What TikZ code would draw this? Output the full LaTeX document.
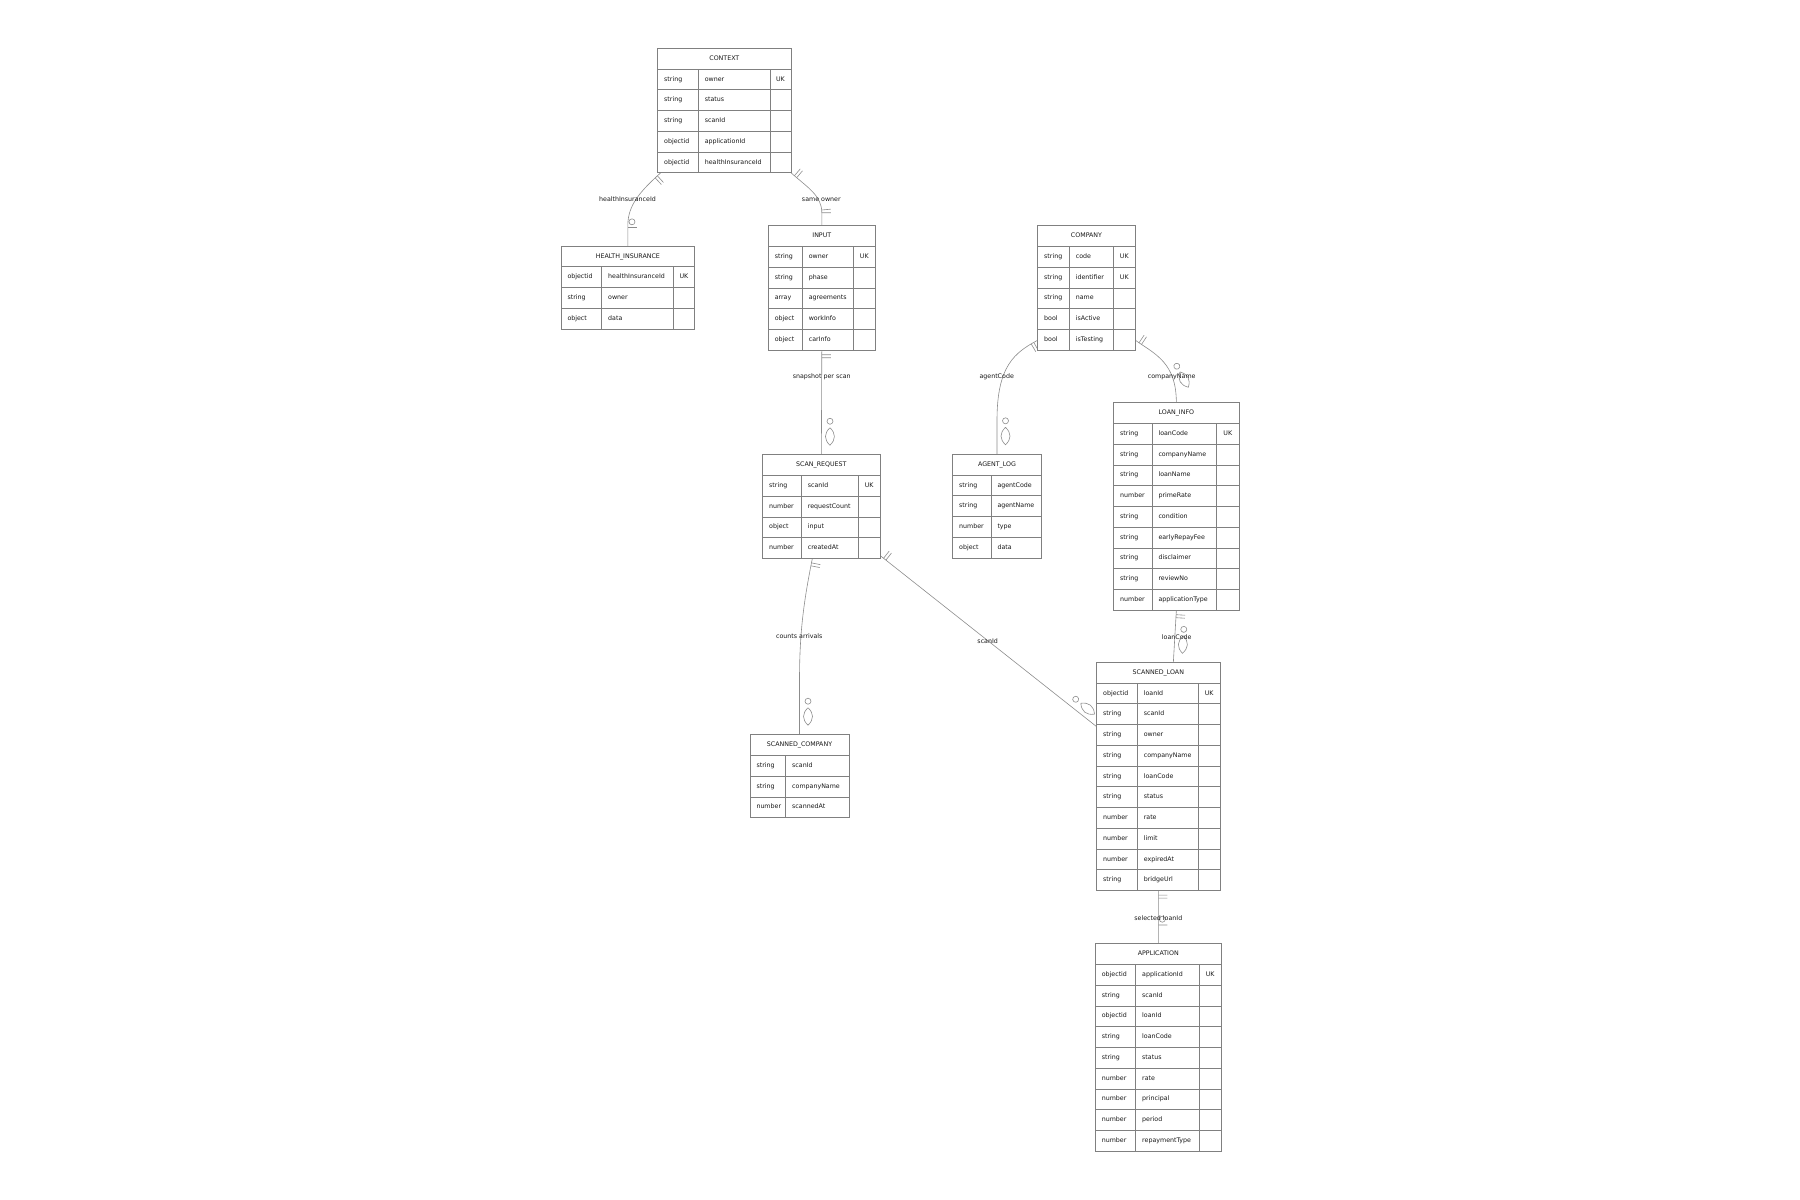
\documentclass[tikz,border=0pt]{standalone}
\usepackage{fontspec}
\setmainfont{DejaVu Sans}
\usetikzlibrary{fit,backgrounds,decorations.markings}
\hyphenpenalty=10000

\begin{document}
\begin{tikzpicture}[x=1pt, y=-1pt,
    font=\fontsize{6.3}{7.5}\selectfont,
    every node/.style={text=black!90},
    head/.style={draw=black!50, line width=0.9pt, fill=white, outer sep=0pt, inner sep=0pt,
        text height=4.7pt, text depth=1.4pt,
        minimum height=20.75pt, minimum width=#1, anchor=north west},
    cell/.style={draw=black!50, line width=0.9pt, fill=white, outer sep=0pt, inner xsep=6.5pt,
        inner ysep=0pt, text height=4.7pt, text depth=1.4pt,
        minimum height=20.75pt, text width=#1, align=left, anchor=north west},
    keycell/.style={draw=black!50, line width=0.9pt, fill=white, outer sep=0pt, inner sep=0pt,
        text height=4.7pt, text depth=1.4pt,
        minimum height=20.75pt, minimum width=#1, anchor=north west},
    box/.style={inner sep=0pt, outer sep=0pt},
    lbl/.style={inner sep=0pt},
    link/.style={draw=black!45, line width=0.6pt},
    onestart/.style={postaction={decorate, decoration={markings,
        mark=at position 4.5pt with {\draw[link] (0,0) -- (0,-9);},
        mark=at position 7.5pt with {\draw[link] (0,0) -- (0,-9);}}}},
    oneend/.style={postaction={decorate, decoration={markings,
        mark=at position -15.7pt with {\draw[link] (0,0) -- (0,-9);},
        mark=at position -13pt with {\draw[link] (0,0) -- (0,-9);}}}},
    zoneend/.style={postaction={decorate, decoration={markings,
        mark=at position -24.5pt with {\draw[link, fill=white] (0,-4) circle[radius=3pt];},
        mark=at position -18.7pt with {\draw[link] (0,0) -- (0,-9);}}}},
    manyend/.style={postaction={decorate, decoration={markings,
        mark=at position -33.5pt with {\draw[link, fill=white] (0,-8.5) circle[radius=3pt];
            \draw[link] (6.5,-8.5) .. controls (12.3,-14.5) and (18.2,-14.5) .. (24,-8.5)
                .. controls (18.2,-2.5) and (12.3,-2.5) .. (6.5,-8.5);}}}}]

    \useasboundingbox (0,0) rectangle (1800,1200);

    % CONTEXT
    \node[head=133.3pt] (context-h) at (657.7,48.3) {CONTEXT};
    \foreach \t/\f/\k [count=\i] in {string/owner/UK, string/status/{}, string/scanId/{},
        objectid/applicationId/{}, objectid/healthInsuranceId/{}} {
        \node[cell=27.6pt] (context-t\i) at (657.7,{48.3+20.75*\i}) {\t};
        \node[cell=58.7pt] (context-f\i) at (context-t\i.north east) {\f};
        \node[keycell=21pt] (context-k\i) at (context-f\i.north east) {\k};
    }
    \node[box, fit=(context-h)(context-k5)] (context) {};

    % HEALTH_INSURANCE
    \node[head=133.7pt] (hi-h) at (561,246) {HEALTH\_INSURANCE};
    \foreach \t/\f/\k [count=\i] in {objectid/healthInsuranceId/UK, string/owner/{}, object/data/{}} {
        \node[cell=27.7pt] (hi-t\i) at (561,{246+20.75*\i}) {\t};
        \node[cell=58.6pt] (hi-f\i) at (hi-t\i.north east) {\f};
        \node[keycell=21.4pt] (hi-k\i) at (hi-f\i.north east) {\k};
    }
    \node[box, fit=(hi-h)(hi-k3)] (hi) {};

    % INPUT
    \node[head=107pt] (input-h) at (768.3,225.7) {INPUT};
    \foreach \t/\f/\k [count=\i] in {string/owner/UK, string/phase/{}, array/agreements/{},
        object/workInfo/{}, object/carInfo/{}} {
        \node[cell=21pt] (input-t\i) at (768.3,{225.7+20.75*\i}) {\t};
        \node[cell=38pt] (input-f\i) at (input-t\i.north east) {\f};
        \node[keycell=22pt] (input-k\i) at (input-f\i.north east) {\k};
    }
    \node[box, fit=(input-h)(input-k5)] (input) {};

    % COMPANY
    \node[head=97.6pt] (company-h) at (1037.7,225.7) {COMPANY};
    \foreach \t/\f/\k [count=\i] in {string/code/UK, string/identifier/UK, string/name/{},
        bool/isActive/{}, bool/isTesting/{}} {
        \node[cell=18.6pt] (company-t\i) at (1037.7,{225.7+20.75*\i}) {\t};
        \node[cell=31pt] (company-f\i) at (company-t\i.north east) {\f};
        \node[keycell=22pt] (company-k\i) at (company-f\i.north east) {\k};
    }
    \node[box, fit=(company-h)(company-k5)] (company) {};

    % LOAN_INFO
    \node[head=125.3pt] (loaninfo-h) at (1113.7,402.7) {LOAN\_INFO};
    \foreach \t/\f/\k [count=\i] in {string/loanCode/UK, string/companyName/{}, string/loanName/{},
        number/primeRate/{}, string/condition/{}, string/earlyRepayFee/{}, string/disclaimer/{},
        string/reviewNo/{}, number/applicationType/{}} {
        \node[cell=25.3pt] (loaninfo-t\i) at (1113.7,{402.7+20.75*\i}) {\t};
        \node[cell=51.7pt] (loaninfo-f\i) at (loaninfo-t\i.north east) {\f};
        \node[keycell=22.3pt] (loaninfo-k\i) at (loaninfo-f\i.north east) {\k};
    }
    \node[box, fit=(loaninfo-h)(loaninfo-k9)] (loaninfo) {};

    % AGENT_LOG
    \node[head=88.6pt] (agentlog-h) at (952.7,454.3) {AGENT\_LOG};
    \foreach \t/\f [count=\i] in {string/agentCode, string/agentName, number/type, object/data} {
        \node[cell=25.3pt] (agentlog-t\i) at (952.7,{454.3+20.75*\i}) {\t};
        \node[cell=37.3pt] (agentlog-f\i) at (agentlog-t\i.north east) {\f};
    }
    \node[box, fit=(agentlog-h)(agentlog-f4)] (agentlog) {};

    % SCAN_REQUEST
    \node[head=117.3pt] (scanreq-h) at (762.7,454.7) {SCAN\_REQUEST};
    \foreach \t/\f/\k [count=\i] in {string/scanId/UK, number/requestCount/{}, object/input/{},
        number/createdAt/{}} {
        \node[cell=25.6pt] (scanreq-t\i) at (762.7,{454.7+20.75*\i}) {\t};
        \node[cell=44pt] (scanreq-f\i) at (scanreq-t\i.north east) {\f};
        \node[keycell=21.7pt] (scanreq-k\i) at (scanreq-f\i.north east) {\k};
    }
    \node[box, fit=(scanreq-h)(scanreq-k4)] (scanreq) {};

    % SCANNED_COMPANY
    \node[head=99pt] (scomp-h) at (750,734.7) {SCANNED\_COMPANY};
    \foreach \t/\f [count=\i] in {string/scanId, string/companyName, number/scannedAt} {
        \node[cell=22.7pt] (scomp-t\i) at (750,{734.7+20.75*\i}) {\t};
        \node[cell=50.3pt] (scomp-f\i) at (scomp-t\i.north east) {\f};
    }
    \node[box, fit=(scomp-h)(scomp-f3)] (scomp) {};

    % SCANNED_LOAN
    \node[head=123.3pt] (sloan-h) at (1096.7,662.3) {SCANNED\_LOAN};
    \foreach \t/\f/\k [count=\i] in {objectid/loanId/UK, string/scanId/{}, string/owner/{},
        string/companyName/{}, string/loanCode/{}, string/status/{}, number/rate/{},
        number/limit/{}, number/expiredAt/{}, string/bridgeUrl/{}} {
        \node[cell=27.6pt] (sloan-t\i) at (1096.7,{662.3+20.75*\i}) {\t};
        \node[cell=48pt] (sloan-f\i) at (sloan-t\i.north east) {\f};
        \node[keycell=21.7pt] (sloan-k\i) at (sloan-f\i.north east) {\k};
    }
    \node[box, fit=(sloan-h)(sloan-k10)] (sloan) {};

    % APPLICATION
    \node[head=126pt] (app-h) at (1095.3,943.7) {APPLICATION};
    \foreach \t/\f/\k [count=\i] in {objectid/applicationId/UK, string/scanId/{}, objectid/loanId/{},
        string/loanCode/{}, string/status/{}, number/rate/{}, number/principal/{},
        number/period/{}, number/repaymentType/{}} {
        \node[cell=27.4pt] (app-t\i) at (1095.3,{943.7+20.75*\i}) {\t};
        \node[cell=50.3pt] (app-f\i) at (app-t\i.north east) {\f};
        \node[keycell=22.3pt] (app-k\i) at (app-f\i.north east) {\k};
    }
    \node[box, fit=(app-h)(app-k9)] (app) {};

    % relations
    \begin{pgfonlayer}{background}
        \draw[link, onestart, zoneend] ([xshift=3pt]context.south west)
            .. controls +(-20,18) and +(0,-20) .. ([yshift=21pt]hi.north) -- (hi.north);
        \draw[link, onestart, oneend] (context.south east)
            .. controls +(17,15) and +(0,-17) .. ([yshift=13pt]input.north) -- (input.north);
        \draw[link, onestart, manyend] (input.south) -- (scanreq.north);
        \draw[link, onestart, manyend] ([yshift=10pt]company.south west)
            .. controls +(-22.7,12.3) and +(0,-55) .. ([yshift=34pt]agentlog.north) -- (agentlog.north);
        \draw[link, onestart, manyend] ([yshift=10pt]company.south east)
            .. controls +(20,14) and +(0,-40) .. (loaninfo.north);
        \draw[link, onestart, manyend] ([xshift=-9pt]scanreq.south)
            .. controls +(-8,40) and +(0,-50) .. ([yshift=55pt]scomp.north) -- (scomp.north);
        \draw[link, onestart, manyend] ([yshift=3pt]scanreq.south east) -- ([yshift=-64.4pt]sloan.north west);
        \draw[link, onestart, manyend] (loaninfo.south) -- ([xshift=15pt]sloan.north);
        \draw[link, onestart, zoneend] (sloan.south) -- (app.north);
    \end{pgfonlayer}

    \node[lbl] (l-hi) at (627.5,199) {healthInsuranceId};
    \node[lbl] (l-input) at (821.3,199.3) {same owner};
    \node[lbl] (l-scanreq) at (821.7,376.3) {snapshot per scan};
    \node[lbl] (l-agentlog) at (996.7,376.7) {agentCode};
    \node[lbl] (l-loaninfo) at (1171.7,376.7) {companyName};
    \node[lbl] (l-scomp) at (799.3,636.3) {counts arrivals};
    \node[lbl] (l-sloan) at (987.7,641.3) {scanId};
    \node[lbl] (l-code) at (1176.7,636.7) {loanCode};
    \node[lbl] (l-app) at (1158.3,917.7) {selected loanId};
\end{tikzpicture}
\end{document}
